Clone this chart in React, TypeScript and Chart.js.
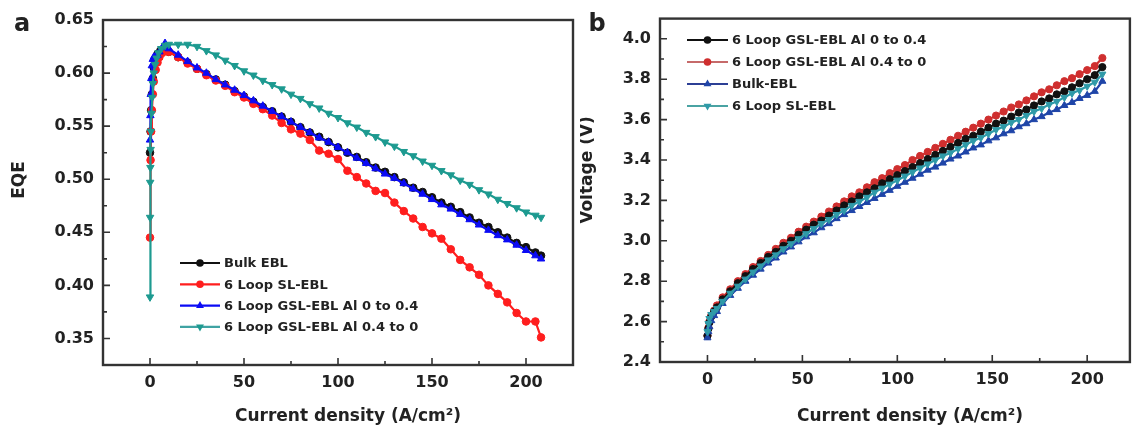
import React, { useEffect, useRef } from "react";
import { Chart, registerables } from "chart.js";
Chart.register(...registerables);

const FONT = "'DejaVu Sans', 'Liberation Sans', sans-serif";

// ---------- Panel a : EQE vs current density ----------
const aXTicks = [0, 50, 100, 150, 200];
const aXMinor = [25, 75, 125, 175];
const aYTicks = [0.35, 0.4, 0.45, 0.5, 0.55, 0.6, 0.65];
const aYMinor = [0.375, 0.425, 0.475, 0.525, 0.575, 0.625];

const aMainX = [10, 15, 20, 25, 30, 35, 40, 45, 50, 55, 60, 65, 70, 75, 80, 85, 90, 95, 100, 105, 110, 115, 120, 125, 130, 135, 140, 145, 150, 155, 160, 165, 170, 175, 180, 185, 190, 195, 200, 205, 208];

const bulkStartX = [0, 0.3, 0.6, 1, 1.5, 2, 3, 4, 5.5, 7];
const bulkStartY = [0.525, 0.545, 0.565, 0.58, 0.595, 0.605, 0.613, 0.618, 0.621, 0.622];
const bulkMainY = [0.62, 0.615, 0.61, 0.604, 0.599, 0.594, 0.589, 0.583, 0.578, 0.573, 0.568, 0.564, 0.559, 0.554, 0.549, 0.544, 0.54, 0.535, 0.53, 0.525, 0.521, 0.516, 0.511, 0.507, 0.502, 0.497, 0.492, 0.488, 0.483, 0.478, 0.474, 0.469, 0.464, 0.459, 0.455, 0.45, 0.445, 0.44, 0.436, 0.431, 0.428];

const slStartX = [0, 0.3, 0.6, 1, 1.5, 2, 3, 4, 5, 6.5, 8];
const slStartY = [0.445, 0.518, 0.545, 0.565, 0.58, 0.592, 0.603, 0.61, 0.615, 0.619, 0.621];
const slMainY = [0.62, 0.615, 0.609, 0.604, 0.598, 0.593, 0.588, 0.582, 0.577, 0.571, 0.566, 0.56, 0.553, 0.547, 0.543, 0.537, 0.527, 0.524, 0.519, 0.508, 0.502, 0.496, 0.489, 0.487, 0.478, 0.47, 0.463, 0.455, 0.449, 0.444, 0.434, 0.424, 0.417, 0.41, 0.4, 0.392, 0.384, 0.374, 0.366, 0.366, 0.351];

const g04StartX = [0, 0.2, 0.4, 0.7, 1, 1.5, 2, 3, 4, 5, 6.5, 8];
const g04StartY = [0.537, 0.56, 0.58, 0.595, 0.607, 0.613, 0.615, 0.616, 0.617, 0.62, 0.624, 0.628];
const g04MainY = [0.623, 0.617, 0.611, 0.605, 0.6, 0.594, 0.589, 0.584, 0.579, 0.574, 0.569, 0.564, 0.559, 0.554, 0.549, 0.544, 0.539, 0.535, 0.53, 0.525, 0.52, 0.515, 0.51, 0.505, 0.501, 0.496, 0.491, 0.486, 0.481, 0.476, 0.472, 0.467, 0.462, 0.457, 0.452, 0.447, 0.443, 0.438, 0.433, 0.428, 0.425];

const g40StartX = [0, 0.05, 0.1, 0.2, 0.35, 0.5, 0.8, 1.1, 1.5, 2, 2.7, 3.5, 4.5, 6, 8];
const g40StartY = [0.389, 0.464, 0.497, 0.511, 0.528, 0.545, 0.562, 0.577, 0.59, 0.6, 0.608, 0.614, 0.619, 0.623, 0.626];
const g40MainY = [0.627, 0.627, 0.627, 0.625, 0.621, 0.617, 0.612, 0.607, 0.602, 0.598, 0.593, 0.589, 0.585, 0.58, 0.576, 0.571, 0.567, 0.562, 0.558, 0.553, 0.549, 0.544, 0.54, 0.535, 0.531, 0.526, 0.522, 0.517, 0.513, 0.508, 0.504, 0.499, 0.495, 0.49, 0.486, 0.481, 0.477, 0.473, 0.469, 0.466, 0.464];

// ---------- Panel b : voltage vs current density ----------
const bXTicks = [0, 50, 100, 150, 200];
const bXMinor = [25, 75, 125, 175];
const bYTicks = [2.4, 2.6, 2.8, 3.0, 3.2, 3.4, 3.6, 3.8, 4.0];
const bYMinor = [2.5, 2.7, 2.9, 3.1, 3.3, 3.5, 3.7, 3.9];

const bStartX = [0, 0.5, 1, 2, 3.5, 5];
const bMainX = [8, 12, 16, 20, 24, 28, 32, 36, 40, 44, 48, 52, 56, 60, 64, 68, 72, 76, 80, 84, 88, 92, 96, 100, 104, 108, 112, 116, 120, 124, 128, 132, 136, 140, 144, 148, 152, 156, 160, 164, 168, 172, 176, 180, 184, 188, 192, 196, 200, 204, 208];

const vG04Start = [2.53, 2.565, 2.595, 2.625, 2.65, 2.67];
const vG04Main = [2.71, 2.75, 2.79, 2.825, 2.86, 2.89, 2.92, 2.945, 2.975, 3.0, 3.03, 3.055, 3.08, 3.1, 3.125, 3.15, 3.175, 3.195, 3.22, 3.24, 3.26, 3.285, 3.305, 3.325, 3.345, 3.365, 3.385, 3.405, 3.425, 3.445, 3.465, 3.485, 3.505, 3.52, 3.54, 3.56, 3.58, 3.595, 3.615, 3.635, 3.65, 3.67, 3.69, 3.705, 3.725, 3.74, 3.76, 3.78, 3.8, 3.82, 3.86];

const vG40Start = [2.53, 2.57, 2.6, 2.63, 2.655, 2.68];
const vG40Main = [2.72, 2.76, 2.8, 2.835, 2.87, 2.9, 2.93, 2.96, 2.99, 3.015, 3.045, 3.07, 3.095, 3.12, 3.145, 3.17, 3.195, 3.22, 3.24, 3.265, 3.29, 3.31, 3.335, 3.355, 3.375, 3.4, 3.42, 3.44, 3.46, 3.48, 3.5, 3.52, 3.54, 3.56, 3.58, 3.6, 3.62, 3.64, 3.66, 3.675, 3.695, 3.715, 3.735, 3.75, 3.77, 3.79, 3.805, 3.825, 3.845, 3.865, 3.905];

const vBulkStart = [2.52, 2.55, 2.575, 2.605, 2.63, 2.65];
const vBulkMain = [2.69, 2.73, 2.765, 2.8, 2.83, 2.86, 2.89, 2.915, 2.945, 2.97, 2.995, 3.02, 3.04, 3.065, 3.085, 3.11, 3.13, 3.15, 3.17, 3.19, 3.21, 3.23, 3.25, 3.27, 3.29, 3.31, 3.33, 3.35, 3.365, 3.385, 3.405, 3.42, 3.44, 3.46, 3.475, 3.495, 3.51, 3.53, 3.545, 3.565, 3.58, 3.6, 3.615, 3.635, 3.65, 3.67, 3.685, 3.705, 3.72, 3.74, 3.79];

const vSLStart = [2.55, 2.59, 2.615, 2.635, 2.65, 2.665];
const vSLMain = [2.7, 2.74, 2.775, 2.81, 2.845, 2.875, 2.905, 2.93, 2.96, 2.985, 3.01, 3.035, 3.06, 3.085, 3.105, 3.13, 3.15, 3.175, 3.195, 3.215, 3.24, 3.26, 3.28, 3.3, 3.32, 3.34, 3.36, 3.38, 3.4, 3.42, 3.435, 3.455, 3.475, 3.495, 3.51, 3.53, 3.55, 3.565, 3.585, 3.6, 3.62, 3.64, 3.655, 3.675, 3.69, 3.71, 3.73, 3.745, 3.765, 3.785, 3.825];

const X_TITLE = "Current density (A/cm\u00B2)";

function pts(xs: number[], ys: number[]) {
  return xs.map((x, i) => ({ x, y: ys[i] }));
}

function drawMarker(ctx: CanvasRenderingContext2D, style: string, rot: number, x: number, y: number, r: number, color: string) {
  ctx.fillStyle = color;
  ctx.beginPath();
  if (style === "circle") {
    ctx.arc(x, y, r, 0, Math.PI * 2);
  } else {
    let a = (rot * Math.PI) / 180;
    for (let k = 0; k < 3; k++) {
      const px = x + Math.sin(a) * r * 1.2;
      const py = y - Math.cos(a) * r * 1.2;
      if (k === 0) ctx.moveTo(px, py);
      else ctx.lineTo(px, py);
      a += (2 * Math.PI) / 3;
    }
    ctx.closePath();
  }
  ctx.fill();
}

const decorPlugin = {
  id: "decor",
  afterDraw(chart: any, _args: any, opts: any) {
    const { ctx, chartArea: ca, scales } = chart;
    const xs = scales.x;
    const ys = scales.y;
    ctx.save();
    // frame
    ctx.strokeStyle = "#333333";
    ctx.lineWidth = 2.4;
    ctx.strokeRect(ca.left, ca.top, ca.right - ca.left, ca.bottom - ca.top);
    // ticks (inward)
    ctx.lineWidth = 1.6;
    ctx.beginPath();
    for (const v of opts.xMajor) {
      const p = xs.getPixelForValue(v);
      ctx.moveTo(p, ca.bottom);
      ctx.lineTo(p, ca.bottom - 7);
    }
    for (const v of opts.xMinor) {
      const p = xs.getPixelForValue(v);
      ctx.moveTo(p, ca.bottom);
      ctx.lineTo(p, ca.bottom - 4);
    }
    for (const v of opts.yMajor) {
      const p = ys.getPixelForValue(v);
      ctx.moveTo(ca.left, p);
      ctx.lineTo(ca.left + 7, p);
    }
    for (const v of opts.yMinor) {
      const p = ys.getPixelForValue(v);
      ctx.moveTo(ca.left, p);
      ctx.lineTo(ca.left + 4, p);
    }
    ctx.stroke();

    // legend
    const lg = opts.legend;
    chart.data.datasets.forEach((ds: any, i: number) => {
      const y = lg.y + i * lg.dy;
      ctx.strokeStyle = ds.legendLine || ds.borderColor;
      ctx.lineWidth = 2.2;
      ctx.beginPath();
      ctx.moveTo(lg.x, y);
      ctx.lineTo(lg.x + lg.len, y);
      ctx.stroke();
      drawMarker(ctx, ds.pointStyle, ds.pointRotation || 0, lg.x + lg.len / 2, y, 3.8, ds.pointBackgroundColor);
      ctx.fillStyle = "#222";
      ctx.font = `bold 13px ${FONT}`;
      ctx.textAlign = "left";
      ctx.textBaseline = "middle";
      ctx.fillText(ds.label, lg.x + lg.len + 4, y + 1);
    });

    // texts
    for (const t of opts.texts) {
      ctx.save();
      ctx.fillStyle = "#222";
      ctx.font = t.font;
      ctx.textAlign = "center";
      ctx.textBaseline = "middle";
      ctx.translate(t.x, t.y);
      if (t.rotate) ctx.rotate(-Math.PI / 2);
      ctx.fillText(t.text, 0, 0);
      ctx.restore();
    }
    ctx.restore();
  },
};

function ds(label: string, data: any[], color: string, style: string, rot: number, order: number, radius: number, legendLine?: string) {
  return {
    label,
    data,
    borderColor: color,
    backgroundColor: color,
    pointBackgroundColor: color,
    pointBorderColor: color,
    pointStyle: style,
    pointRotation: rot,
    pointRadius: radius,
    pointBorderWidth: 1,
    borderWidth: 2.2,
    tension: 0,
    order,
    legendLine,
  };
}

function makeConfig(p: any) {
  return {
    type: "line",
    data: { datasets: p.datasets },
    plugins: [decorPlugin],
    options: {
      responsive: false,
      animation: false,
      events: [],
      layout: { padding: p.padding },
      scales: {
        x: {
          type: "linear",
          min: p.xMin,
          max: p.xMax,
          grid: { display: false, drawTicks: false },
          border: { display: false },
          afterBuildTicks: (s: any) => {
            s.ticks = p.xTicks.map((v: number) => ({ value: v }));
          },
          afterFit: (s: any) => {
            s.height = p.xHeight;
          },
          ticks: {
            autoSkip: false,
            maxRotation: 0,
            padding: p.xPad,
            color: "#222",
            font: { family: FONT, size: 16, weight: "bold" },
            callback: (v: any) => String(v),
          },
        },
        y: {
          type: "linear",
          min: p.yMin,
          max: p.yMax,
          grid: { display: false, drawTicks: false },
          border: { display: false },
          afterBuildTicks: (s: any) => {
            s.ticks = p.yTicks.map((v: number) => ({ value: v }));
          },
          afterFit: (s: any) => {
            s.width = p.yWidth;
          },
          ticks: {
            autoSkip: false,
            padding: p.yPad,
            color: "#222",
            font: { family: FONT, size: 16, weight: "bold" },
            callback: (v: any) => Number(v).toFixed(p.yDec),
          },
        },
      },
      plugins: {
        legend: { display: false },
        tooltip: { enabled: false },
        decor: p.decor,
      },
    },
  } as any;
}

export default function App() {
  const refA = useRef<HTMLCanvasElement>(null);
  const refB = useRef<HTMLCanvasElement>(null);

  useEffect(() => {
    const cfgA = makeConfig({
      datasets: [
        ds("Bulk EBL", pts([...bulkStartX, ...aMainX], [...bulkStartY, ...bulkMainY]), "#111111", "circle", 0, 3, 3.8),
        ds("6 Loop SL-EBL", pts([...slStartX, ...aMainX], [...slStartY, ...slMainY]), "#ff1e1e", "circle", 0, 2, 3.8),
        ds("6 Loop GSL-EBL Al 0 to 0.4", pts([...g04StartX, ...aMainX], [...g04StartY, ...g04MainY]), "#0b0bf5", "triangle", 0, 1, 4.3),
        ds("6 Loop GSL-EBL Al 0.4 to 0", pts([...g40StartX, ...aMainX], [...g40StartY, ...g40MainY]), "#1d9a90", "triangle", 180, 0, 4.3, "#3fa3a3"),
      ],
      padding: { left: 0, right: 7, top: 20, bottom: 0 },
      xMin: -25,
      xMax: 225,
      yMin: 0.325,
      yMax: 0.65,
      xTicks: aXTicks,
      yTicks: aYTicks,
      yDec: 2,
      xHeight: 65,
      yWidth: 103,
      xPad: 8,
      yPad: 9,
      decor: {
        xMajor: aXTicks,
        xMinor: aXMinor,
        yMajor: aYTicks,
        yMinor: aYMinor,
        legend: { x: 180, y: 263, dy: 21.3, len: 40 },
        texts: [
          { text: "a", x: 22, y: 25, font: `bold 24px ${FONT}` },
          { text: "EQE", x: 20, y: 180, font: `bold 17px ${FONT}`, rotate: true },
          { text: X_TITLE, x: 348, y: 417, font: `bold 17px ${FONT}` },
        ],
      },
    });

    const cfgB = makeConfig({
      datasets: [
        ds("6 Loop GSL-EBL Al 0 to 0.4", pts([...bStartX, ...bMainX], [...vG04Start, ...vG04Main]), "#111111", "circle", 0, 2, 3.6),
        ds("6 Loop GSL-EBL Al 0.4 to 0", pts([...bStartX, ...bMainX], [...vG40Start, ...vG40Main]), "#cf2f2f", "circle", 0, 3, 3.6, "#c66a6a"),
        ds("Bulk-EBL", pts([...bStartX, ...bMainX], [...vBulkStart, ...vBulkMain]), "#1f45a8", "triangle", 0, 1, 4.1, "#2c3f95"),
        ds("6 Loop SL-EBL", pts([...bStartX, ...bMainX], [...vSLStart, ...vSLMain]), "#2f9aa8", "triangle", 180, 0, 4.1, "#4aa3a3"),
      ],
      padding: { left: 0, right: 4, top: 10, bottom: 0 },
      xMin: -25,
      xMax: 222.5,
      yMin: 2.4,
      yMax: 4.1,
      xTicks: bXTicks,
      yTicks: bYTicks,
      yDec: 1,
      xHeight: 68,
      yWidth: 80,
      xPad: 8,
      yPad: 9,
      decor: {
        xMajor: bXTicks,
        xMinor: bXMinor,
        yMajor: bYTicks,
        yMinor: bYMinor,
        legend: { x: 107, y: 40, dy: 22, len: 41 },
        texts: [
          { text: "b", x: 17, y: 25, font: `bold 24px ${FONT}` },
          { text: "Voltage (V)", x: 8, y: 170, font: `bold 17px ${FONT}`, rotate: true },
          { text: X_TITLE, x: 330, y: 417, font: `bold 17px ${FONT}` },
        ],
      },
    });

    const a = new Chart(refA.current as HTMLCanvasElement, cfgA);
    const b = new Chart(refB.current as HTMLCanvasElement, cfgB);
    return () => {
      a.destroy();
      b.destroy();
    };
  }, []);

  return (
    <div style={{ position: "fixed", left: 0, top: 0, width: 1135, height: 430, background: "#fff" }}>
      <canvas ref={refA} width={580} height={430} style={{ position: "absolute", left: 0, top: 0 }} />
      <canvas ref={refB} width={555} height={430} style={{ position: "absolute", left: 580, top: 0 }} />
    </div>
  );
}
